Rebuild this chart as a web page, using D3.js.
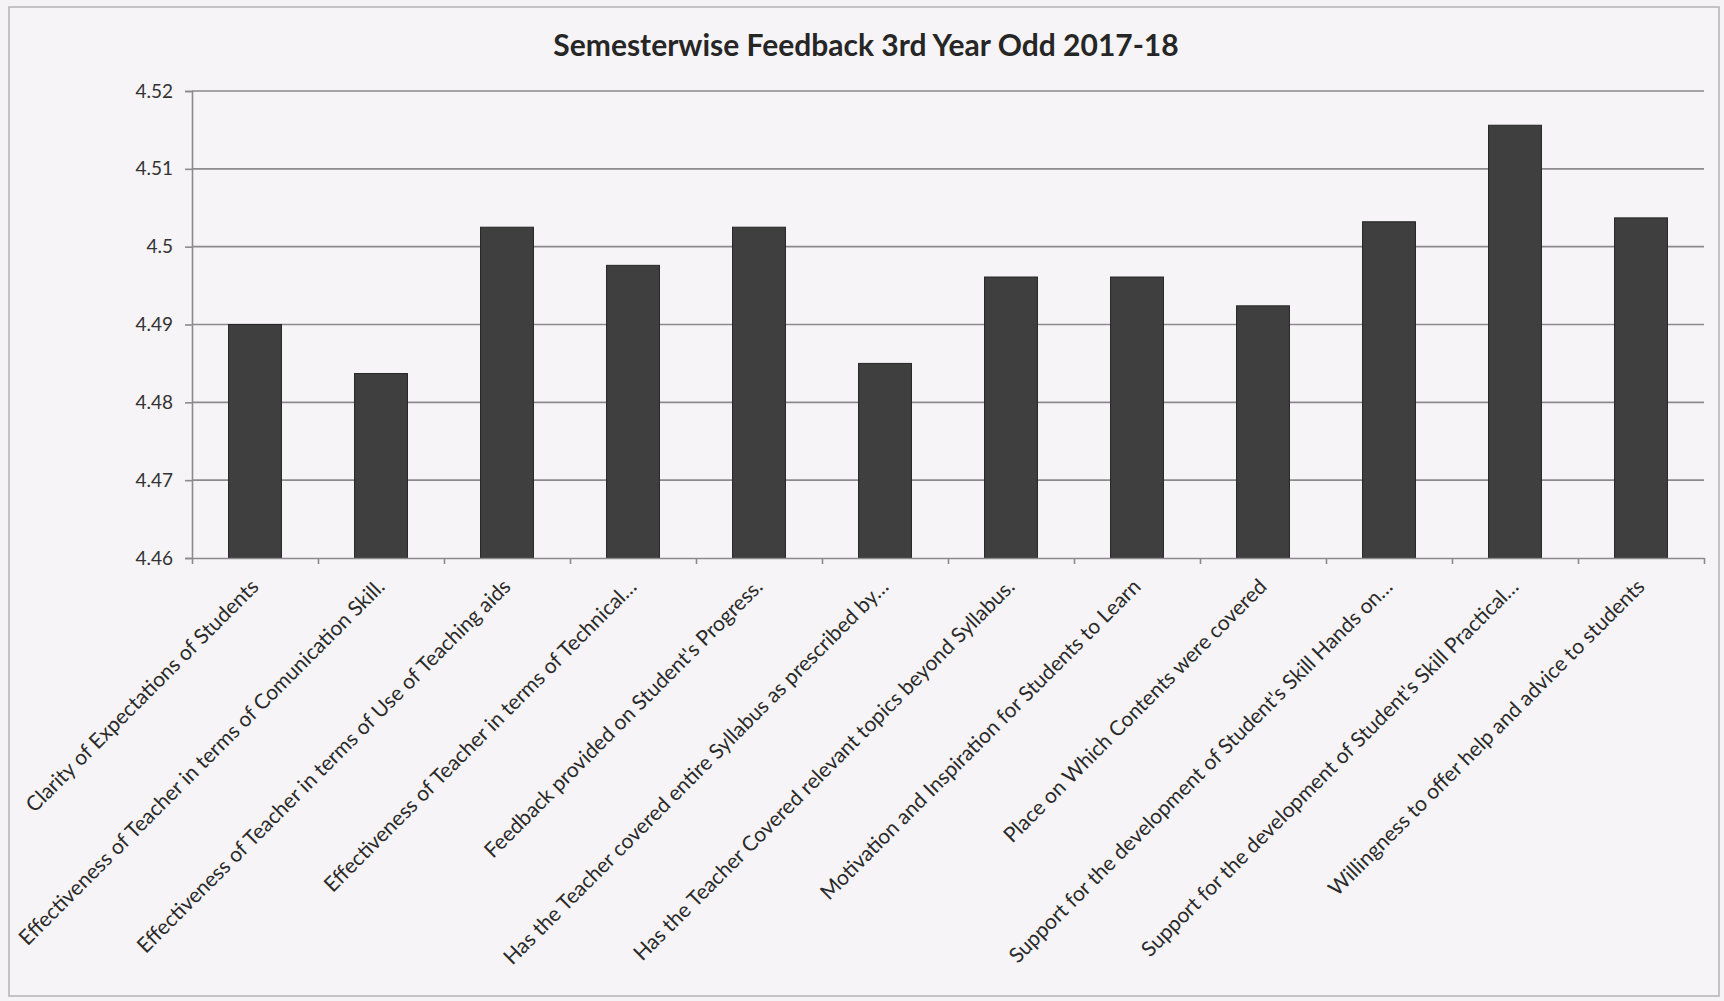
<!DOCTYPE html>
<html>
<head>
<meta charset="utf-8">
<script src="https://cdn.jsdelivr.net/npm/d3@7"></script>
<style>
  body { margin: 0; background: #f5f3f5; }
  svg { display: block; font-family: Lato, 'Open Sans', sans-serif; }
</style>
</head>
<body>
<svg></svg>
<script>
const width = 1724
const height = 1001
const margin = { top: 91, right: 20, bottom: 443, left: 192 }

const title = 'Semesterwise Feedback 3rd Year Odd 2017-18'

const categories = [
  'Clarity of Expectations of Students',
  'Effectiveness of Teacher in terms of Comunication Skill.',
  'Effectiveness of Teacher in terms of Use of Teaching aids',
  'Effectiveness of Teacher in terms of Technical…',
  "Feedback provided on Student's Progress.",
  'Has the Teacher covered entire Syllabus as prescribed by…',
  'Has the Teacher Covered relevant topics beyond Syllabus.',
  'Motivation and Inspiration for Students to Learn',
  'Place on Which Contents were covered',
  "Support for the development of Student's Skill Hands on…",
  "Support for the development of Student's Skill Practical…",
  'Willingness to offer help and advice to students'
]

const scores = [4.49, 4.4837, 4.5025, 4.4976, 4.5025, 4.485, 4.4961, 4.4961, 4.4924, 4.5032, 4.5156, 4.5037]

const yTicks = [4.46, 4.47, 4.48, 4.49, 4.5, 4.51, 4.52]
const yTickLabels = ['4.46', '4.47', '4.48', '4.49', '4.5', '4.51', '4.52']

const svg = d3.select('svg')
  .attr('width', width)
  .attr('height', height)

// scanned page frame
svg.append('rect')
  .attr('x', 9).attr('y', 7)
  .attr('width', width - 14).attr('height', height - 12)
  .attr('fill', '#f6f4f6')
  .attr('stroke', '#b4b2b4')
  .attr('stroke-width', 1.5)

/** x scale: one band per question */
const xScale = d3.scaleBand()
  .domain(categories)
  .range([margin.left, width - margin.right])
  .paddingInner(0.58)
  .paddingOuter(0.29)

/** y scale */
const yScale = d3.scaleLinear()
  .domain([4.46, 4.52])
  .range([height - margin.bottom, margin.top])

// gridlines
svg.append('g')
  .selectAll('line')
  .data(yTicks.slice(1))
  .enter()
  .append('line')
  .attr('x1', margin.left)
  .attr('x2', width - margin.right)
  .attr('y1', d => yScale(d))
  .attr('y2', d => yScale(d))
  .attr('stroke', '#8c8a8c')
  .attr('stroke-width', 1.6)

// bars
svg.append('g')
  .selectAll('rect')
  .data(scores)
  .enter()
  .append('rect')
  .attr('x', (d, i) => xScale(categories[i]))
  .attr('width', xScale.bandwidth())
  .attr('y', d => yScale(d))
  .attr('height', d => yScale(4.46) - yScale(d))
  .attr('fill', '#3f3f3f')
  .attr('stroke', '#262626')
  .attr('stroke-width', 1)

/** y axis */
const yAxis = d3.axisLeft(yScale)
  .tickValues(yTicks)
  .tickFormat((d, i) => yTickLabels[i])
  .tickSize(7)
  .tickPadding(12)

const gy = svg.append('g')
  .attr('transform', `translate(${margin.left},0)`)
  .call(yAxis)
gy.select('.domain').attr('stroke', '#8c8a8c').attr('stroke-width', 1.6)
gy.selectAll('.tick line').attr('stroke', '#8c8a8c').attr('stroke-width', 1.6)
gy.selectAll('.tick text')
  .attr('font-family', 'Lato, sans-serif')
  .attr('font-size', 19)
  .attr('fill', '#333')

/** x axis with ticks between categories */
const xBoundary = d3.scaleLinear()
  .domain([0, categories.length])
  .range([margin.left, width - margin.right])

const xAxis = d3.axisBottom(xBoundary)
  .tickValues(d3.range(categories.length + 1))
  .tickFormat('')
  .tickSize(6)
  .tickSizeOuter(0)

const gx = svg.append('g')
  .attr('transform', `translate(0,${height - margin.bottom})`)
  .call(xAxis)
gx.select('.domain').attr('stroke', '#8c8a8c').attr('stroke-width', 1.6)
gx.selectAll('.tick line').attr('stroke', '#8c8a8c').attr('stroke-width', 1.6)

// rotated category labels
svg.append('g')
  .selectAll('text')
  .data(categories)
  .enter()
  .append('text')
  .attr('transform', d => `translate(${xScale(d) + xScale.bandwidth() / 2 + 5},${height - margin.bottom + 30}) rotate(-45)`)
  .attr('text-anchor', 'end')
  .attr('font-size', 21)
  .attr('fill', '#2a2a2a')
  .text(d => d)

// title
svg.append('text')
  .attr('x', 866)
  .attr('y', 56)
  .attr('text-anchor', 'middle')
  .attr('font-size', 30)
  .attr('font-weight', 'bold')
  .attr('fill', '#262626')
  .text(title)
</script>
</body>
</html>
